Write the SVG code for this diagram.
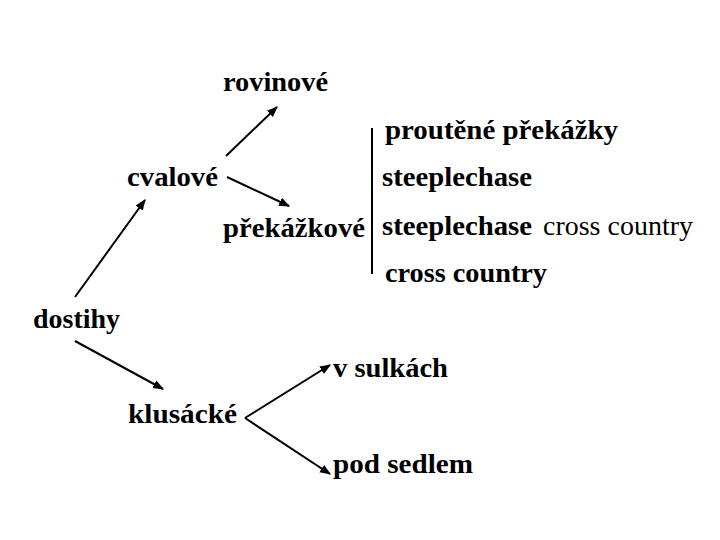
<svg xmlns="http://www.w3.org/2000/svg" width="720" height="540" viewBox="0 0 720 540">
<style>
text{font-family:'Liberation Serif','Times New Roman','DejaVu Serif',serif;font-size:28px;font-weight:bold;fill:#000}
.reg{font-weight:normal}
.c{stroke:#000;stroke-width:2;fill:none}
</style>
<defs>
<marker id="ah" viewBox="0 0 10 10" refX="9" refY="5" markerWidth="5.5" markerHeight="5.5" orient="auto" markerUnits="strokeWidth">
<path d="M0,1 L10,5 L0,9 z" fill="#000"/>
</marker>
</defs>
<rect width="720" height="540" fill="#fff"/>
<g id="connectors">
<line class="c" x1="75" y1="297" x2="145" y2="200" marker-end="url(#ah)"/>
<line class="c" x1="75" y1="341" x2="163" y2="389" marker-end="url(#ah)"/>
<line class="c" x1="226" y1="156" x2="277" y2="107" marker-end="url(#ah)"/>
<line class="c" x1="227" y1="177" x2="289" y2="206" marker-end="url(#ah)"/>
<line class="c" x1="245" y1="418" x2="330" y2="365" marker-end="url(#ah)"/>
<line class="c" x1="245" y1="418" x2="330" y2="474" marker-end="url(#ah)"/>
<line class="c" x1="372" y1="128" x2="372" y2="274"/>
</g>
<g id="dostihy"><text x="33" y="328" textLength="87" lengthAdjust="spacingAndGlyphs">dostihy</text></g>
<g id="cvalove"><text x="127" y="186" textLength="91" lengthAdjust="spacingAndGlyphs">cvalové</text></g>
<g id="rovinove"><text x="223" y="91" textLength="105" lengthAdjust="spacingAndGlyphs">rovinové</text></g>
<g id="prekazkove"><text x="223" y="237" textLength="142" lengthAdjust="spacingAndGlyphs">překážkové</text></g>
<g id="proutene"><text x="385" y="139" textLength="233" lengthAdjust="spacingAndGlyphs">proutěné překážky</text></g>
<g id="steeplechase"><text x="382" y="186" textLength="150" lengthAdjust="spacingAndGlyphs">steeplechase</text></g>
<g id="steeplechase-cc"><text x="382" y="235" textLength="150" lengthAdjust="spacingAndGlyphs">steeplechase</text><text class="reg" x="543" y="235" textLength="150" lengthAdjust="spacingAndGlyphs">cross country</text></g>
<g id="crosscountry"><text x="385" y="282" textLength="162" lengthAdjust="spacingAndGlyphs">cross country</text></g>
<g id="klusacke"><text x="128" y="423" textLength="109" lengthAdjust="spacingAndGlyphs">klusácké</text></g>
<g id="vsulkach"><text x="333" y="377" textLength="115" lengthAdjust="spacingAndGlyphs">v sulkách</text></g>
<g id="podsedlem"><text x="333" y="473" textLength="140" lengthAdjust="spacingAndGlyphs">pod sedlem</text></g>
</svg>
